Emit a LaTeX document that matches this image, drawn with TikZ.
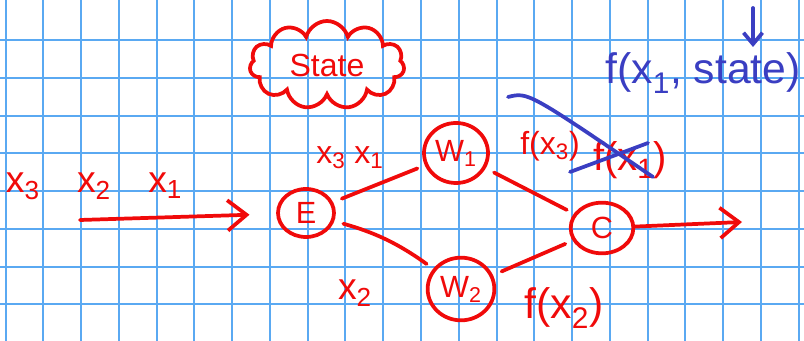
\documentclass[tikz,border=0pt]{standalone}
\usepackage{fontspec}
\setmainfont{Liberation Sans}
\usetikzlibrary{arrows.meta, positioning, shapes.geometric, shapes.symbols}
\definecolor{inkred}{HTML}{F00A0A}
\definecolor{inkblue}{HTML}{3A3EC2}
\definecolor{gridblue}{HTML}{5AA9F2}
\tikzset{
  tnode/.style={draw=inkred, line width=2.8pt, ellipse, inner sep=0pt, text=inkred, font=\fontsize{23}{25}\selectfont},
  tcloud/.style={draw=inkred, line width=2.8pt, cloud, cloud puffs=11, aspect=1.8, inner sep=0pt, text=inkred, font=\fontsize{24}{26}\selectfont},
  tflow/.style={-{Straight Barb[length=5mm, width=8mm]}, line width=2.8pt, inkred, line cap=round},
  tedge/.style={line width=2.8pt, inkred, line cap=round, shorten <=7pt, shorten >=6pt},
  tlbl/.style={text=inkred, inner sep=1pt, font=\fontsize{24}{26}\selectfont},
  tink/.style={line width=2.8pt, inkblue, line cap=round},
  tgrid/.style={gridblue, line width=1.5pt},
}
\begin{document}
\begin{tikzpicture}[x=0.75pt, y=-0.75pt]
  \useasboundingbox (0,0) rectangle (804,341);
  \fill[white] (0,0) rectangle (804,341);
  % grid paper
  \foreach \k in {0,...,21} \draw[tgrid] ({5.5+37.77*\k},0) -- ({5.5+37.77*\k},341);
  \foreach \k in {1,...,8} \draw[tgrid] (0,{2.2+37.77*\k}) -- (804,{2.2+37.77*\k});
  % nodes
  \node[tnode, minimum width=42pt, minimum height=36pt] (E) at (306,213) {E};
  \node[tnode, minimum width=48pt, minimum height=45pt] (w1) at (456,153) {W\textsubscript{1}};
  \node[tnode, minimum width=50pt, minimum height=47pt] (w2) at (461,289) {W\textsubscript{2}};
  \node[tnode, minimum width=47pt, minimum height=38pt] (C) at (602,228) {C};
  \node[tcloud, minimum width=116pt, minimum height=66pt] (state) at (327,65) {State};
  % input and output stream
  \node[tlbl, font=\fontsize{28}{30}\selectfont] (xin) at (94,186) {x\textsubscript{3}\quad x\textsubscript{2}\quad x\textsubscript{1}};
  \coordinate (src) at (80,220);
  \coordinate (dst) at (742,222);
  \draw[tflow, shorten >=20pt] (src) -- (E);
  \draw[tflow] (C) -- (dst);
  % edges
  \draw[tedge] (E) -- (w1);
  \draw[tedge] (E) to[bend left=10] (w2);
  \draw[tedge] (w1) -- (C);
  \draw[tedge] (w2) -- (C);
  \node[tlbl] (l31) at (350,158) {x\textsubscript{3} x\textsubscript{1}};
  \node[tlbl, font=\fontsize{28}{30}\selectfont] (l2) at (355,293) {x\textsubscript{2}};
  \node[tlbl, font=\fontsize{32}{34}\selectfont] (fx2) at (564,308) {f(x\textsubscript{2})};
  \node[tlbl] (fx3) at (550,146) {f(x\textsubscript{3})};
  \node[tlbl, font=\fontsize{30}{32}\selectfont] (fx1) at (630,160) {f(x\textsubscript{1})};
  % crossed out
  \coordinate (c1a) at (508,97);
  \coordinate (c1b) at (653,177);
  \coordinate (c2a) at (570,172);
  \coordinate (c2b) at (648,143);
  \draw[tink] (c1a) .. controls (528,92) .. (c1b);
  \draw[tink] (c2a) -- (c2b);
  % stateful version
  \node[text=inkblue, font=\fontsize{32}{34}\selectfont] (fst) at (703,73) {f(x\textsubscript{1}, state)};
  \coordinate (ptr) at (753,8);
  \draw[tink, -{Straight Barb[length=3mm, width=5mm]}] (ptr) -- ++(0,39);
\end{tikzpicture}
\end{document}
